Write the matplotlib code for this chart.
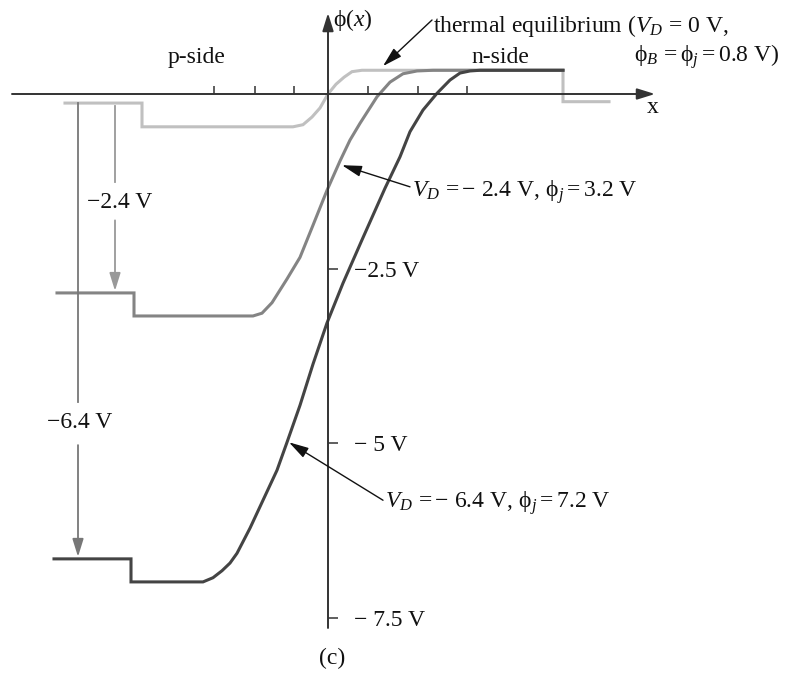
import numpy as np
import matplotlib.pyplot as plt

plt.rcParams['font.family'] = ['Liberation Serif', 'DejaVu Serif']
plt.rcParams['mathtext.fontset'] = 'custom'
plt.rcParams['mathtext.rm'] = 'Liberation Serif'
plt.rcParams['mathtext.it'] = 'Liberation Serif:italic'

# potential phi(x) across the junction (x in arbitrary units, phi in volts)
x_eq = [-26.3, -18.6, -18.6, -3.5, -2.5, -1.6, -0.8, 0, 0.8, 1.6, 2.4, 3.4, 23.5, 23.5, 28.1]
phi_eq = [-0.13, -0.13, -0.47, -0.47, -0.44, -0.33, -0.20, 0, 0.14, 0.24, 0.32, 0.34, 0.34, -0.11, -0.11]

x_24 = [-27.1, -19.4, -19.4, -7.5, -6.6, -5.6, -4.1, -2.8, -1.5, -0.1, 1.2, 2.2, 3.2,
        4.9, 6.2, 7.5, 8.9, 10.5, 23.5]
phi_24 = [-2.85, -2.85, -3.18, -3.18, -3.14, -2.99, -2.65, -2.34, -1.88, -1.38, -0.96, -0.66, -0.42,
          -0.04, 0.17, 0.29, 0.33, 0.34, 0.34]

x_64 = [-27.4, -19.7, -19.7, -12.5, -11.5, -10.6, -9.8, -9.1, -7.8, -6.5, -5.1, -4.1, -2.8, -1.5,
        -0.1, 1.5, 3.4, 5.7, 7.2, 8.2, 9.5, 10.9, 12.2, 13.2, 14.2, 15.2, 23.5]
phi_64 = [-6.66, -6.66, -6.99, -6.99, -6.93, -6.83, -6.72, -6.58, -6.22, -5.82, -5.39, -4.99, -4.46, -3.87,
          -3.28, -2.71, -2.09, -1.35, -0.90, -0.54, -0.23, 0.01, 0.20, 0.30, 0.33, 0.34, 0.34]

tick_x = [-11.4, -7.3, -3.4, 4.0, 9.0, 13.9]
tick_phi = [-2.5, -5, -7.5]
tick_labels = ['\u22122.5 V', '\u2212 5 V', '\u2212 7.5 V']

fig = plt.figure(figsize=(7.9, 6.73), dpi=100)
ax = fig.add_axes([0, 0, 1, 1])
ax.set_xlim(-32.8, 46.2)
ax.set_ylim(-8.295, 1.3467)

# axes drawn through the origin, ticks only
for s in ax.spines.values():
    s.set_visible(False)
ax.spines['bottom'].set_position(('data', 0))
ax.spines['right'].set_position(('data', 0))
ax.xaxis.set_ticks_position('bottom')
ax.yaxis.set_ticks_position('right')
ax.set_xticks(tick_x)
ax.set_yticks(tick_phi, tick_labels)
ax.tick_params(axis='x', direction='in', length=6, width=1.1, colors='#333', labelbottom=False)
ax.tick_params(axis='y', direction='out', length=7, width=1.1, color='#333',
               labelright=True, labelleft=False, pad=12, labelsize=17, labelcolor='#111')

axis_arrow = dict(arrowstyle='-|>,head_length=0.9,head_width=0.28', mutation_scale=12,
                  lw=1.4, color='#333', shrinkA=0, shrinkB=0)
ax.annotate('', xy=(32.7, 0), xytext=(-31.6, 0), arrowprops=axis_arrow)
ax.annotate('', xy=(0, 1.16), xytext=(0, -7.65), arrowprops=axis_arrow)

ax.plot(x_eq, phi_eq, color='#c0c0c0', lw=2.2, solid_joinstyle='miter')
ax.plot(x_24, phi_24, color='#848484', lw=2.2, solid_joinstyle='miter')
ax.plot(x_64, phi_64, color='#444444', lw=2.2, solid_joinstyle='miter')

# applied voltage dimension arrows
dim_head = '-|>,head_length=0.9,head_width=0.28'
ax.plot([-25.0, -25.0], [phi_eq[0], -4.41], color='#777', lw=1.3)
ax.annotate('', xy=(-25.0, phi_64[0] + 0.03), xytext=(-25.0, -5.03),
            arrowprops=dict(arrowstyle=dim_head, mutation_scale=12, lw=1.3, color='#777',
                            shrinkA=0, shrinkB=0))
ax.text(-24.8, -4.71, '\u22126.4 V', fontsize=17, ha='center', va='center', color='#111')

ax.plot([-21.3, -21.3], [phi_eq[0] - 0.04, -1.26], color='#999', lw=1.3)
ax.annotate('', xy=(-21.3, phi_24[0] + 0.03), xytext=(-21.3, -1.81),
            arrowprops=dict(arrowstyle=dim_head, mutation_scale=12, lw=1.3, color='#999',
                            shrinkA=0, shrinkB=0))
ax.text(-20.8, -1.55, '\u22122.4 V', fontsize=17, ha='center', va='center', color='#111')

# labels
ax.text(-13.1, 0.44, 'p-side', fontsize=17, ha='center', va='baseline', color='#111')
ax.text(17.2, 0.44, 'n-side', fontsize=17, ha='center', va='baseline', color='#111')
ax.text(0.5, 1.06, r'$\mathrm{\phi}(x)$', fontsize=17, ha='left', va='center', color='#111')
ax.text(32.5, -0.19, 'x', fontsize=17, ha='center', va='center', color='#111')
ax.text(0.4, -8.08, '(c)', fontsize=17, ha='center', va='center', color='#111')

note_arrow = dict(arrowstyle='-|>,head_length=1.0,head_width=0.28', mutation_scale=12,
                  lw=1.0, color='#111', shrinkA=0, shrinkB=0)

ax.annotate('', xy=(5.5, 0.40), xytext=(10.4, 1.06), arrowprops=note_arrow)
ax.text(10.5, 0.89, r'thermal equilibrium ($V_D\,=\,0$ V,', fontsize=17, ha='left', va='baseline',
        color='#111')
ax.text(45.2, 0.46, r'$\mathrm{\phi}_B\,= \mathrm{\phi}_j = 0.8$ V)', fontsize=17, ha='right',
        va='baseline', color='#111')

ax.annotate('', xy=(1.4, -1.02), xytext=(8.2, -1.33), arrowprops=note_arrow)
ax.text(8.4, -1.40, r'$V_D\,= -$ 2.4 V, $\mathrm{\phi}_j = 3.2$ V', fontsize=17, ha='left',
        va='center', color='#111')

ax.annotate('', xy=(-3.9, -4.99), xytext=(5.5, -5.82), arrowprops=note_arrow)
ax.text(5.7, -5.86, r'$V_D\,= -$ 6.4 V, $\mathrm{\phi}_j = 7.2$ V', fontsize=17, ha='left',
        va='center', color='#111')

fig.savefig('out.png', dpi=100, facecolor='white')
